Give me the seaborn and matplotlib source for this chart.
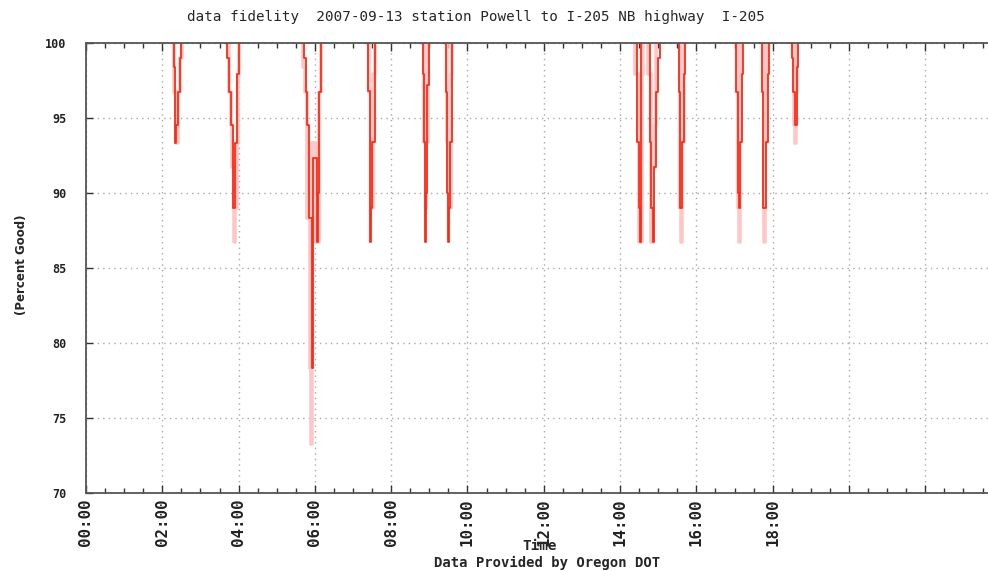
#!/usr/bin/env python3

import matplotlib
matplotlib.use('Agg')
import matplotlib.pyplot as plt
from matplotlib.ticker import MultipleLocator
import pandas as pd
import seaborn as sns

# each reading: minute after midnight, percent good from that minute on, dip number
red_minute = [135, 138, 140, 142, 145, 148, 150,
              219, 221, 225, 228, 231, 235, 238, 241,
              340, 343, 346, 348, 350, 355, 357, 363, 365, 367, 369,
              440, 444, 447, 449, 450, 455,
              527, 530, 532, 533, 535, 536, 539,
              563, 566, 568, 570, 571, 573, 576,
              865, 867, 869, 871, 873,
              884, 887, 888, 891, 894, 897, 900, 902,
              931, 933, 934, 938, 940, 942,
              1021, 1022, 1025, 1027, 1028, 1031, 1033,
              1060, 1063, 1065, 1069, 1072, 1074,
              1107, 1110, 1112, 1115, 1118, 1120]
red_pct = [100, 98.4, 93.3, 94.5, 96.7, 99, 100,
           100, 99, 96.7, 94.5, 89, 93.3, 97.9, 100,
           100, 99, 96.7, 94.5, 88.3, 78.3, 92.3, 86.7, 90, 96.7, 100,
           100, 96.8, 86.7, 89, 93.4, 100,
           100, 97.9, 93.4, 86.7, 90, 97.2, 100,
           100, 96.7, 90, 86.7, 89, 93.4, 100,
           100, 93.4, 89, 86.7, 100,
           100, 93.4, 89, 86.7, 91.7, 96.7, 99, 100,
           100, 96.7, 89, 93.4, 97.9, 100,
           100, 96.7, 90, 89, 93.4, 97.9, 100,
           100, 96.7, 89, 93.4, 97.9, 100,
           100, 99, 96.7, 94.5, 98.4, 100]
red_dip = [1] * 7 + [2] * 8 + [3] * 11 + [4] * 6 + [5] * 7 + [6] * 7 + \
          [7] * 5 + [8] * 8 + [9] * 6 + [10] * 7 + [11] * 6 + [12] * 6

pink_minute = [137, 139, 142, 144, 148, 151,
               220, 225, 228, 230, 232, 234, 237, 239, 241,
               338, 342, 345, 348, 352, 354, 356, 362, 366, 370,
               442, 445, 448, 452, 454,
               528, 532, 534, 535, 538,
               565, 568, 571, 574, 576,
               862, 864, 869, 874, 875, 876,
               882, 884, 889, 892, 895, 896,
               932, 935, 936, 937, 941,
               1023, 1026, 1027, 1028, 1030,
               1064, 1066, 1067, 1068, 1071,
               1111, 1114, 1115, 1116, 1119]
pink_pct = [100, 96.7, 93.3, 96.7, 99, 100,
            100, 96.7, 94.5, 91.7, 86.7, 89, 93.3, 97.9, 100,
            100, 98.4, 96.7, 88.3, 78.3, 73.3, 93.3, 86.7, 96.7, 100,
            100, 96.7, 89, 97.9, 100,
            100, 93.4, 89, 93.4, 100,
            100, 93.4, 89, 97.9, 100,
            100, 97.9, 86.7, 90, 97.9, 100,
            100, 97.9, 86.7, 91.7, 94.5, 100,
            100, 89, 86.7, 93.4, 100,
            100, 89, 86.7, 93.4, 100,
            100, 89, 86.7, 93.4, 100,
            100, 94.5, 93.3, 96.7, 100]
pink_dip = [1] * 6 + [2] * 9 + [3] * 10 + [4] * 5 + [5] * 5 + [6] * 5 + \
           [7] * 6 + [8] * 6 + [9] * 5 + [10] * 5 + [11] * 5 + [12] * 5

hour_labels = ['00:00', '02:00', '04:00', '06:00', '08:00', '10:00',
               '12:00', '14:00', '16:00', '18:00', '', '', '']

red = pd.DataFrame({'minute': red_minute, 'pct': red_pct, 'dip': red_dip})
pink = pd.DataFrame({'minute': pink_minute, 'pct': pink_pct, 'dip': pink_dip})

sns.set_style('white')
plt.rcParams['font.family'] = ['DejaVu Sans Mono', 'DejaVu Sans']

fig = plt.figure(figsize=(9.88, 5.71), dpi=100)
ax = fig.add_axes([0.08704, 0.1366, 0.9267, 0.7881])

sns.lineplot(x='minute', y='pct', data=pink, units='dip', estimator=None,
             color='#ffc6c6', linewidth=2.6, drawstyle='steps-post', ax=ax)
sns.lineplot(x='minute', y='pct', data=red, units='dip', estimator=None,
             color='#ff2a14', linewidth=1.3, drawstyle='steps-post', ax=ax)

ax.set_xlim(0, 1440)
ax.set_ylim(70, 100)
ax.set_xticks(range(0, 1441, 120))
ax.set_xticklabels(hour_labels, rotation=90, fontsize=11.3, fontweight='bold',
                   color='#222222')
ax.xaxis.set_minor_locator(MultipleLocator(30))
ax.set_yticks([70, 75, 80, 85, 90, 95, 100])
ax.set_yticklabels(['70', '75', '80', '85', '90', '95', '100'],
                   fontsize=8.5, fontweight='bold', color='#222222')
ax.tick_params(axis='x', which='major', direction='in', length=6, width=1,
               top=True, bottom=True, pad=4, color='#333333')
ax.tick_params(axis='x', which='minor', direction='in', length=3.5, width=1,
               top=True, bottom=True, color='#333333')
ax.tick_params(axis='y', direction='in', length=5, width=1, left=True,
               right=True, pad=14, color='#333333')
ax.grid(True, which='major', color='#a8a8a8', linestyle=(0, (1, 3)), linewidth=1)
for s in ax.spines.values():
    s.set_color('#555555')
    s.set_linewidth(1.3)
ax.set_xlabel('')
ax.set_ylabel('')

fig.text(476 / 988, 1 - 17 / 571,
         'data fidelity  2007-09-13 station Powell to I-205 NB highway  I-205',
         ha='center', va='center', fontsize=10.3)
fig.text(22 / 988, 1 - 265 / 571, '(Percent Good)', rotation=90,
         ha='center', va='center', fontsize=8.5, fontweight='bold',
         family='DejaVu Sans')
fig.text(540 / 988, 1 - 546 / 571, 'Time', ha='center', va='center',
         fontsize=10.3, fontweight='bold')
fig.text(547 / 988, 1 - 563 / 571, 'Data Provided by Oregon DOT',
         ha='center', va='center', fontsize=10, fontweight='bold')

plt.savefig('out.png', dpi=100)
